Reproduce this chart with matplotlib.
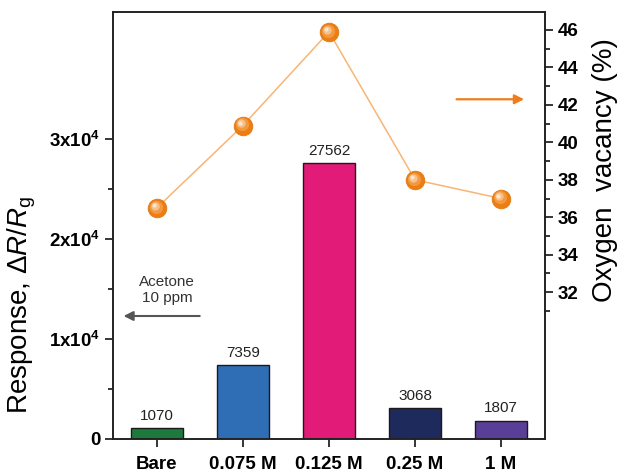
import matplotlib
matplotlib.use("Agg")
import matplotlib.pyplot as plt
from matplotlib import transforms

plt.rcParams['font.family'] = ['Liberation Sans', 'DejaVu Sans']
plt.rcParams['mathtext.fontset'] = 'custom'
plt.rcParams['mathtext.rm'] = 'Liberation Sans'
plt.rcParams['mathtext.it'] = 'Liberation Sans:italic'
plt.rcParams['mathtext.bf'] = 'Liberation Sans:bold'

categories = ["Bare", "0.075 M", "0.125 M", "0.25 M", "1 M"]
response = [1070, 7359, 27562, 3068, 1807]
vacancy = [36.5, 40.9, 45.9, 38.0, 37.0]
bar_colors = ["#1e7a3c", "#2f6db5", "#e31b78", "#1f2a5c", "#5a3f98"]
left_ticks = [0, 10000, 20000, 30000]
left_labels = ["0", r"$\mathbf{1x10^4}$", r"$\mathbf{2x10^4}$", r"$\mathbf{3x10^4}$"]
right_ticks = [32, 34, 36, 38, 40, 42, 44, 46]

fig = plt.figure(figsize=(6.2, 4.73), dpi=100)
ax = fig.add_axes([0.1823, 0.0719, 0.879 - 0.1823, 0.9746 - 0.0719])

x = list(range(len(categories)))
ax.bar(x, response, width=0.6, color=bar_colors, edgecolor="#1a1a1a", linewidth=1.0, zorder=2)
for xi, v in zip(x, response):
    ax.annotate(f"{v}", (xi, v), xytext=(0, 4), textcoords="offset points",
                ha="center", va="bottom", fontsize=11, color="#222222")

ax.set_xlim(-0.51, 4.51)
ax.set_ylim(0, 42700)
ax.set_xticks(x)
ax.set_xticklabels(categories, fontsize=13.5, fontweight="bold")
ax.set_yticks(left_ticks)
ax.set_yticklabels(left_labels, fontsize=13.5, fontweight="bold")
ax.set_yticks([5000, 15000, 25000], minor=True)
ax.tick_params(axis="both", which="major", direction="out", length=6, width=1.1, pad=3)
ax.tick_params(axis="x", which="major", pad=6)
ax.tick_params(axis="y", which="minor", direction="out", length=3.5, width=1.1)
for s in ax.spines.values():
    s.set_linewidth(1.2)
    s.set_color("#222222")
ax.set_ylabel(r"Response, $\Delta\mathit{R}/\mathit{R}_{\mathrm{g}}$", fontsize=20)
ax.yaxis.set_label_coords(-0.174, 0.314)

# acetone annotation with arrow pointing to the left axis
ax.text(0.12, 14900, "Acetone\n10 ppm", ha="center", va="center", fontsize=11,
        color="#333333", linespacing=1.2)
ax.annotate("", xy=(-0.42, 12300), xytext=(0.53, 12300),
            arrowprops=dict(arrowstyle="-|>", color="#555555", lw=1.5, mutation_scale=14))

ax2 = ax.twinx()
ax2.set_ylim(24.16, 46.96)
ax2.plot(x, vacancy, color="#f8b573", lw=1.1, zorder=3)
# shaded sphere markers
ax2.plot(x, vacancy, "o", ms=13.5, color="#ec7d12", mec="#e07510", mew=0.5, zorder=4)
for dx, dy, ms, c in [(-0.8, 0.8, 9.5, "#f39a3e"), (-1.5, 1.5, 6, "#f8c08a"),
                      (-2.0, 2.0, 3.0, "#fde6cf")]:
    tr = transforms.offset_copy(ax2.transData, fig=fig, x=dx, y=dy, units="points")
    ax2.plot(x, vacancy, "o", ms=ms, color=c, mec="none", transform=tr, zorder=5)

ax2.set_yticks(right_ticks)
ax2.set_yticklabels([str(t) for t in right_ticks], fontsize=13.5, fontweight="bold")
ax2.set_yticks([31, 33, 35, 37, 39, 41, 43, 45], minor=True)
ax2.tick_params(axis="y", which="major", direction="out", length=6, width=1.1, pad=3)
ax2.tick_params(axis="y", which="minor", direction="out", length=3.5, width=1.1)
for s in ax2.spines.values():
    s.set_linewidth(1.2)
    s.set_color("#222222")
ax2.set_ylabel("Oxygen  vacancy (%)", fontsize=20)
ax2.yaxis.set_label_coords(1.110, 0.63)

ax2.annotate("", xy=(4.3, 42.3), xytext=(3.45, 42.3),
             arrowprops=dict(arrowstyle="-|>", color="#ee7d1a", lw=1.6, mutation_scale=14))

fig.savefig("out.png", dpi=100)
